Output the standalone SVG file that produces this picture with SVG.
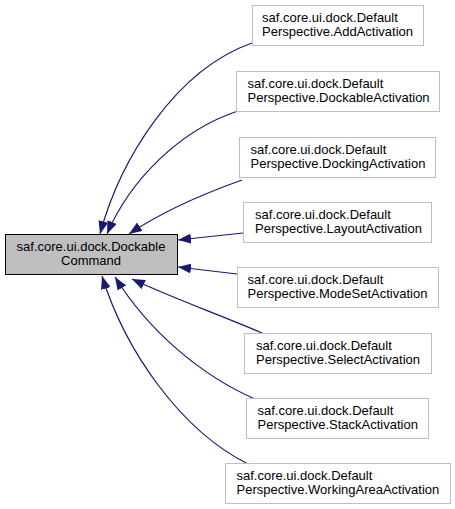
<svg xmlns="http://www.w3.org/2000/svg" width="455" height="509" viewBox="0 0 455 509">
<style>
text{font-family:"Liberation Sans",Arial,sans-serif;font-size:13px;fill:#000}
.n rect{fill:#fff;stroke:#bfbfbf;stroke-width:1}
.m rect{fill:#bfbfbf;stroke:#000;stroke-width:1}
.e path{fill:none;stroke:#191970;stroke-width:1.2;marker-end:url(#ah)}
</style>
<defs>
<marker id="ah" markerUnits="userSpaceOnUse" viewBox="0 0 13 10" refX="13" refY="5" markerWidth="13" markerHeight="10" orient="auto">
<path d="M0,0 L13,5 L0,10 z" fill="#191970"/>
</marker>
</defs>
<rect width="455" height="509" fill="#fff"/>
<g id="edges" class="e">
<path d="M252,43 C175,70 120,160 100,234"/>
<path d="M238,111 C180,130 130,180 107,234"/>
<path d="M242,180 C200,195 160,213 129,234"/>
<path d="M243,233 L178,240"/>
<path d="M237,274 L178,267"/>
<path d="M262,333 C220,315 170,297 132,279"/>
<path d="M255,399 C200,375 148,330 115,277"/>
<path d="M248,464 C180,430 125,350 102,276"/>
</g>
<g id="main" class="m">
<rect x="5.5" y="234.5" width="172" height="40"/>
<text x="91" y="251" text-anchor="middle">saf.core.ui.dock.Dockable</text>
<text x="91" y="265" text-anchor="middle">Command</text>
</g>
<g id="add" class="n">
<rect x="252.5" y="5.5" width="171" height="40"/>
<text x="262" y="22">saf.core.ui.dock.Default</text>
<text x="262" y="36">Perspective.AddActivation</text>
</g>
<g id="dockable" class="n">
<rect x="236.5" y="71.5" width="203" height="40"/>
<text x="247.5" y="88">saf.core.ui.dock.Default</text>
<text x="247.5" y="102">Perspective.DockableActivation</text>
</g>
<g id="docking" class="n">
<rect x="239.5" y="137.5" width="196" height="40"/>
<text x="250.5" y="154">saf.core.ui.dock.Default</text>
<text x="250.5" y="168">Perspective.DockingActivation</text>
</g>
<g id="layout" class="n">
<rect x="243.5" y="202.5" width="188" height="40"/>
<text x="255" y="219">saf.core.ui.dock.Default</text>
<text x="255" y="233">Perspective.LayoutActivation</text>
</g>
<g id="modeset" class="n">
<rect x="237.5" y="267.5" width="201" height="40"/>
<text x="247.5" y="284">saf.core.ui.dock.Default</text>
<text x="247.5" y="298">Perspective.ModeSetActivation</text>
</g>
<g id="select" class="n">
<rect x="244.5" y="333.5" width="187" height="40"/>
<text x="256" y="350">saf.core.ui.dock.Default</text>
<text x="256" y="364">Perspective.SelectActivation</text>
</g>
<g id="stack" class="n">
<rect x="246.5" y="398.5" width="182" height="40"/>
<text x="257.5" y="415">saf.core.ui.dock.Default</text>
<text x="257.5" y="429">Perspective.StackActivation</text>
</g>
<g id="workingarea" class="n">
<rect x="225.5" y="463.5" width="225" height="40"/>
<text x="236.5" y="480">saf.core.ui.dock.Default</text>
<text x="236.5" y="494">Perspective.WorkingAreaActivation</text>
</g>
</svg>
